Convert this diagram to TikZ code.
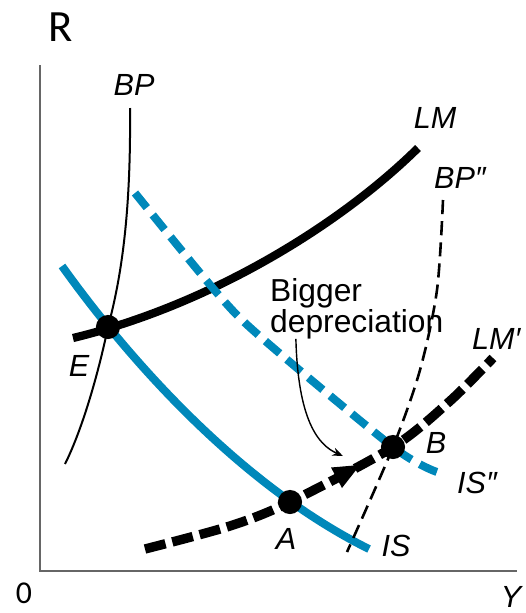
\documentclass[tikz,border=0pt]{standalone}
\usepackage{fontspec}
\setmainfont{Liberation Sans}
\newfontfamily\axisfont{Carlito}
\usetikzlibrary{arrows.meta}
\definecolor{isblue}{RGB}{0,136,186}
\begin{document}
\begin{tikzpicture}[
  x=0.85pt, y=-0.85pt,
  every node/.style={font=\fontsize{26}{26}\selectfont\itshape, inner sep=0pt},
  axis/.style={draw=black!60, line width=1.7pt},
  axlab/.style={font=\axisfont\fontsize{27}{27}\selectfont},
  lmline/.style={line width=7pt},
  isline/.style={draw=isblue, line width=6.8pt},
  bpline/.style={line width=1.7pt},
  lmdash/.style={line width=8pt, dash pattern=on 18pt off 6pt},
  isdash/.style={draw=isblue, line width=6.8pt, dash pattern=on 16pt off 8pt},
  bpdash/.style={line width=2.2pt, dash pattern=on 12pt off 6pt},
  eqpt/.style={circle, fill=black, minimum size=20.5pt, inner sep=0pt},
  note/.style={font=\fontsize{27}{24.6}\selectfont, align=left},
]
\useasboundingbox (0,0) rectangle (526,613);

%% ── Axes ─────────────────────────────────────────────────────────────────────
\coordinate (origin) at (40,571);
\coordinate (ytop) at (40,65);
\coordinate (xend) at (517,571);
\draw[axis] (ytop) -- (origin) -- (xend);
\node[axlab, font=\axisfont\fontsize{38}{38}\selectfont] (rlab) at (61,27) {R};
\node[axlab] (zlab) at (24,593) {0};
\node (ylab) at (511,597) {Y};

%% ── Equilibrium points ───────────────────────────────────────────────────────
\coordinate (E) at (108,327);
\coordinate (A) at (290,502);
\coordinate (B) at (393,447);

%% BP (thin, steep)
\draw[bpline] (130,108) .. controls (131,210) and (122,275) .. (E)
  .. controls (98,375) and (82,430) .. (65,464);
\node (bplab) at (134,85) {BP};

%% LM
\draw[lmline] (73,338) .. controls (210,305) and (340,225) .. (418,148);
\node (lmlab) at (435,118) {LM};

%% IS
\draw[isline] (62,266) .. controls (140,375) and (250,490) .. (369,549);
\node (islab) at (396,546) {IS};

%% IS'' (after depreciation)
\draw[isdash] plot[smooth] coordinates {(135,193) (217,293) (263,339) (B) (437,472)};
\node (is2lab) at (477,483) {IS″};

%% BP''
\draw[bpdash] plot[smooth] coordinates {(443,200) (437,290) (420,370) (B) (347,552)};
\node (bp2lab) at (460,178) {BP″};

%% LM'
\draw[lmdash] plot[smooth] coordinates {(145,549) (230,526) (A) (B) (450,401) (493,358)};
\fill (360,465) -- (342,488) -- (331,467.5) -- cycle;
\node[anchor=west] (lm2lab) at (472,339) {LM′};

%% ── Dots and point labels ────────────────────────────────────────────────────
\node[eqpt] (Edot) at (E) {};
\node[eqpt] (Adot) at (A) {};
\node[eqpt] (Bdot) at (B) {};
\node (elab) at (79,366) {E};
\node (alab) at (286,539) {A};
\node (blab) at (436,443) {B};

%% ── Annotation ───────────────────────────────────────────────────────────────
\node[note, anchor=north west] (deplab) at (270,278) {Bigger\\depreciation};
\coordinate (deptip) at (343,456);
\draw[line width=1.2pt, -{Stealth[length=9pt,width=7pt]}]
  ([xshift=22pt]deplab.south west) .. controls (298,420) and (318,445) .. (deptip);

\end{tikzpicture}
\end{document}
